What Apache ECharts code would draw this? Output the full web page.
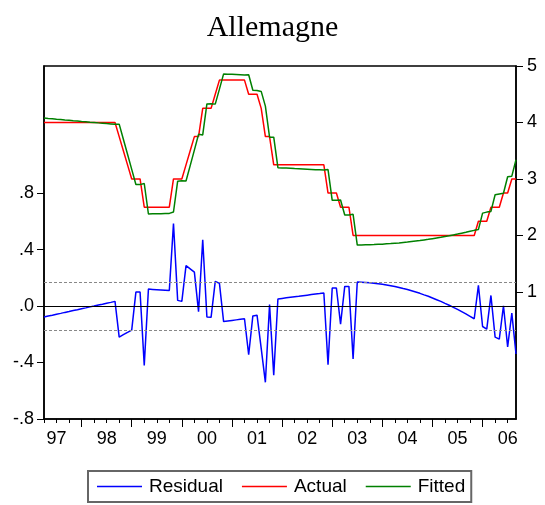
<!DOCTYPE html>
<html>
<head>
    <meta charset="UTF-8" />
    <title>Allemagne</title>
    <script src="https://cdn.jsdelivr.net/npm/echarts@6/dist/echarts.min.js"></script>
    <style>
        html, body { margin: 0; padding: 0; background: #fff; }
        #main { width: 545px; height: 505px; }
    </style>
</head>
<body>
<div id="main"></div>
<script>
var chart = echarts.init(document.getElementById('main'));

/* monthly sample, 1997-04 .. 2006-09 */
var START_YEAR = 1997, START_MONTH = 4, N_MONTHS = 114;
var months = [];
for (var i = 0; i < N_MONTHS; i++) {
    var m = START_MONTH - 1 + i;
    var y = START_YEAR + Math.floor(m / 12);
    var mm = (m % 12) + 1;
    months.push(y + '-' + (mm < 10 ? '0' + mm : '' + mm));
}

var actual = [
    4.0, 4.0, 4.0, 4.0, 4.0, 4.0, 4.0, 4.0, 4.0, 4.0, 4.0, 4.0, 4.0, 4.0, 4.0, 4.0, 4.0, 4.0,
    3.75, 3.5, 3.25,
    3.0, 3.0, 3.0,
    2.5, 2.5, 2.5, 2.5, 2.5, 2.5, 2.5,
    3.0, 3.0, 3.0,
    3.25, 3.5, 3.75, 3.75,
    4.25, 4.25, 4.25, 4.5,
    4.75, 4.75, 4.75, 4.75, 4.75, 4.75, 4.75,
    4.5, 4.5, 4.5, 4.25,
    3.75, 3.75,
    3.25, 3.25, 3.25, 3.25, 3.25, 3.25, 3.25, 3.25, 3.25, 3.25, 3.25, 3.25, 3.25,
    2.75, 2.75, 2.75,
    2.5, 2.5, 2.5,
    2.0, 2.0, 2.0, 2.0, 2.0, 2.0, 2.0, 2.0, 2.0, 2.0, 2.0, 2.0, 2.0, 2.0, 2.0,
    2.0, 2.0, 2.0, 2.0, 2.0, 2.0, 2.0, 2.0, 2.0, 2.0, 2.0, 2.0, 2.0, 2.0, 2.0,
    2.25, 2.25, 2.25,
    2.5, 2.5, 2.5,
    2.75, 2.75,
    3.0, 3.0
];

var fitted = [
    4.078, 4.071, 4.065, 4.058, 4.052, 4.045, 4.039, 4.032, 4.026, 4.019,
    4.013, 4.006, 4.000, 3.993, 3.987, 3.980, 3.974, 3.967, 3.970, 3.703,
    3.437, 3.170, 2.901, 2.900, 2.920, 2.380, 2.382, 2.384, 2.386, 2.388,
    2.390, 2.415, 2.960, 2.967, 2.964, 3.237, 3.510, 3.790, 3.780, 4.328,
    4.330, 4.325, 4.590, 4.860, 4.856, 4.852, 4.848, 4.844, 4.840, 4.845,
    4.570, 4.565, 4.550, 4.290, 3.740, 3.740, 3.200, 3.196, 3.192, 3.188,
    3.184, 3.181, 3.177, 3.173, 3.169, 3.165, 3.162, 3.158, 3.166, 2.622,
    2.622, 2.628, 2.361, 2.361, 2.374, 1.830, 1.831, 1.833, 1.835, 1.838,
    1.842, 1.846, 1.851, 1.856, 1.862, 1.868, 1.876, 1.883, 1.892, 1.901,
    1.910, 1.921, 1.931, 1.943, 1.955, 1.967, 1.981, 1.994, 2.009, 2.024,
    2.040, 2.056, 2.073, 2.090, 2.104, 2.395, 2.413, 2.425, 2.720, 2.734,
    2.748, 3.040, 3.050, 3.340
];

var residual = [
    -0.078, -0.071, -0.065, -0.058, -0.052, -0.045, -0.039, -0.032, -0.026, -0.019,
    -0.013, -0.006, 0.000, 0.007, 0.013, 0.020, 0.026, 0.033, -0.220, -0.203,
    -0.187, -0.170, 0.099, 0.100, -0.420, 0.120, 0.118, 0.116, 0.114, 0.112,
    0.110, 0.585, 0.040, 0.033, 0.286, 0.263, 0.240, -0.040, 0.470, -0.078,
    -0.080, 0.175, 0.160, -0.110, -0.106, -0.102, -0.098, -0.094, -0.090, -0.345,
    -0.070, -0.065, -0.300, -0.540, 0.010, -0.490, 0.050, 0.054, 0.058, 0.062,
    0.066, 0.069, 0.073, 0.077, 0.081, 0.085, 0.088, 0.092, -0.416, 0.128,
    0.128, -0.128, 0.139, 0.139, -0.374, 0.170, 0.169, 0.167, 0.165, 0.162,
    0.158, 0.154, 0.149, 0.144, 0.138, 0.132, 0.124, 0.117, 0.108, 0.099,
    0.090, 0.079, 0.069, 0.057, 0.045, 0.033, 0.019, 0.006, -0.009, -0.024,
    -0.040, -0.056, -0.073, -0.090, 0.146, -0.145, -0.163, 0.075, -0.220, -0.234,
    0.002, -0.290, -0.050, -0.340
];

var STD_ERR = 0.17;
var leftTicks = [-0.8, -0.4, 0, 0.4, 0.8];
var rightTicks = [1, 2, 3, 4, 5];

var FONT = 'Liberation Sans, Arial, sans-serif';
var axisLineStyle = { color: '#000', width: 1.5 };

function leftFmt(v) {
    var s = v.toFixed(1);
    return s.replace('0.', '.');
}

var option = {
    backgroundColor: '#fff',
    animation: false,
    title: {
        text: 'Allemagne',
        left: 'center',
        top: 8,
        textStyle: {
            fontFamily: 'Liberation Serif, Times New Roman, serif',
            fontSize: 30,
            fontWeight: 'normal',
            color: '#000'
        }
    },
    legend: {
        data: ['Residual', 'Actual', 'Fitted'],
        left: 88,
        top: 471,
        icon: 'rect',
        itemWidth: 45,
        itemHeight: 1.5,
        itemGap: 19,
        padding: [6, 6, 6, 9],
        borderColor: '#666',
        borderWidth: 2,
        textStyle: { fontFamily: FONT, fontSize: 19, color: '#000', padding: [0, 0, 0, 2] }
    },
    grid: {
        left: 44, top: 66, width: 472, height: 353,
        show: true, borderColor: '#000', borderWidth: 1.5
    },
    xAxis: [
        {
            type: 'category',
            data: months,
            boundaryGap: false,
            axisLine: { onZero: false, lineStyle: axisLineStyle },
            // short ticks each quarter
            axisTick: {
                length: 4,
                interval: function (idx) { return idx % 3 === 0; },
                lineStyle: { color: '#000', width: 1 }
            },
            axisLabel: {
                interval: function (idx, val) { return val.slice(5) === '07'; },
                formatter: function (val) { return val.slice(2, 4); },
                fontFamily: FONT, fontSize: 18, color: '#000', margin: 11
            },
            splitLine: { show: false }
        },
        {
            // longer ticks at each January
            type: 'category',
            data: months,
            boundaryGap: false,
            position: 'bottom',
            axisLine: { show: false, onZero: false },
            axisTick: {
                length: 8,
                interval: function (idx, val) { return val.slice(5) === '01'; },
                lineStyle: { color: '#000', width: 1 }
            },
            axisLabel: { show: false },
            splitLine: { show: false }
        }
    ],
    yAxis: [
        {
            type: 'value',
            position: 'left',
            min: -0.8,
            max: 1.7,
            axisLine: { show: true, onZero: false, lineStyle: axisLineStyle },
            axisTick: { show: true, length: 7, customValues: leftTicks, lineStyle: { color: '#000', width: 1 } },
            axisLabel: {
                customValues: leftTicks, formatter: leftFmt,
                fontFamily: FONT, fontSize: 18, color: '#000', margin: 10
            },
            splitLine: { show: false }
        },
        {
            type: 'value',
            position: 'right',
            min: -1.25,
            max: 5,
            axisLine: { show: true, onZero: false, lineStyle: axisLineStyle },
            axisTick: { show: true, length: 7, customValues: rightTicks, lineStyle: { color: '#000', width: 1 } },
            axisLabel: {
                customValues: rightTicks,
                fontFamily: FONT, fontSize: 18, color: '#000', margin: 11
            },
            splitLine: { show: false }
        }
    ],
    series: [
        {
            name: 'Residual',
            type: 'line',
            xAxisIndex: 0,
            yAxisIndex: 0,
            data: residual,
            symbol: 'none',
            color: '#0000ff',
            lineStyle: { color: '#0000ff', width: 1.5 },
            markLine: {
                silent: true,
                symbol: ['none', 'none'],
                label: { show: false },
                data: [
                    { yAxis: 0, lineStyle: { color: '#000', type: 'solid', width: 1 } },
                    { yAxis: STD_ERR, lineStyle: { color: '#888', type: [3, 2], width: 1 } },
                    { yAxis: -STD_ERR, lineStyle: { color: '#888', type: [3, 2], width: 1 } }
                ]
            }
        },
        {
            name: 'Actual',
            type: 'line',
            xAxisIndex: 0,
            yAxisIndex: 1,
            data: actual,
            symbol: 'none',
            color: '#ff0000',
            lineStyle: { color: '#ff0000', width: 1.5 }
        },
        {
            name: 'Fitted',
            type: 'line',
            xAxisIndex: 0,
            yAxisIndex: 1,
            data: fitted,
            symbol: 'none',
            color: '#008000',
            lineStyle: { color: '#008000', width: 1.5 }
        }
    ]
};

chart.setOption(option);
</script>
</body>
</html>
